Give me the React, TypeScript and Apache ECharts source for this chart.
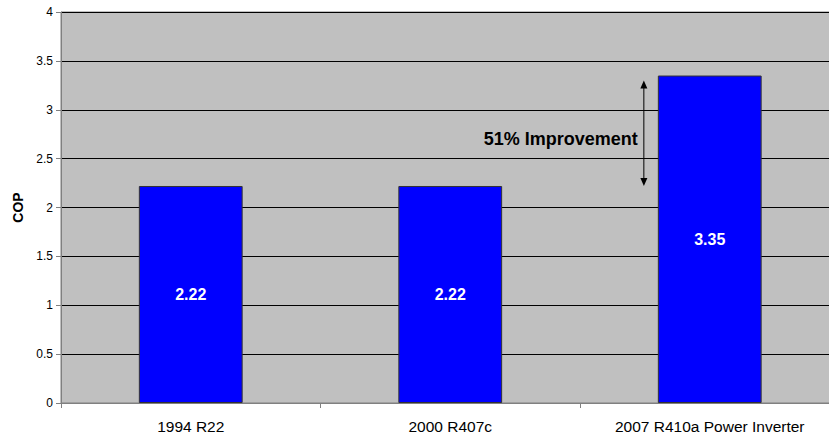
import React, { useEffect, useRef } from "react";
import * as echarts from "echarts";

// COP of heat-pump generations
const categories = ["1994 R22", "2000 R407c", "2007 R410a Power Inverter"];
const copValues = [2.22, 2.22, 3.35];
const yTicks = { min: 0, max: 4, interval: 0.5 };

// Improvement annotation: arrow spans from the older COP up to the newer bar
const arrowFrom = 2.22;
const arrowTo = 3.3;
const improvementText = "51% Improvement";
const improvementLevel = 2.7;

const FONT = "'Liberation Sans', Arial, sans-serif";

export default function App() {
  const ref = useRef<HTMLDivElement>(null);

  useEffect(() => {
    if (!ref.current) return;
    const chart = echarts.init(ref.current, undefined, { renderer: "svg" });
    chart.setOption({
      animation: false,
      textStyle: { fontFamily: FONT },
      grid: {
        left: 61,
        top: 12,
        width: 778.5,
        height: 391,
        outerBoundsMode: "none",
        containLabel: false,
        show: true,
        backgroundColor: "#C0C0C0",
        borderColor: "#808080",
        borderWidth: 1,
      },
      xAxis: {
        type: "category",
        data: categories,
        axisLine: { lineStyle: { color: "#808080", width: 1 } },
        axisTick: { show: true, length: 5, lineStyle: { color: "#808080" } },
        axisLabel: { color: "#000", fontSize: 15.5, fontFamily: FONT, margin: 15 },
      },
      yAxis: {
        type: "value",
        min: yTicks.min,
        max: yTicks.max,
        interval: yTicks.interval,
        name: "COP",
        nameLocation: "middle",
        nameRotate: 90,
        nameGap: 35,
        nameTextStyle: { color: "#000", fontWeight: "bold", fontSize: 14, fontFamily: FONT },
        axisLine: { show: true, lineStyle: { color: "#808080", width: 1 } },
        axisTick: { show: true, length: 5, lineStyle: { color: "#808080" } },
        axisLabel: { color: "#000", fontSize: 12, fontFamily: FONT, margin: 8 },
        splitLine: { show: true, lineStyle: { color: "#000", width: 1 } },
      },
      series: [
        {
          type: "bar",
          data: copValues,
          barWidth: "40%",
          itemStyle: { color: "#0000FF", borderColor: "#333", borderWidth: 1 },
          label: {
            show: true,
            position: "inside",
            color: "#fff",
            fontWeight: "bold",
            fontSize: 16,
            fontFamily: FONT,
          },
        },
      ],
    });

    // Double-headed arrow next to the newest bar, with its caption
    const center = chart.convertToPixel({ xAxisIndex: 0 }, 2) as number;
    const band = (chart.convertToPixel({ xAxisIndex: 0 }, 1) as number) - (chart.convertToPixel({ xAxisIndex: 0 }, 0) as number);
    const ax = center - band * 0.2 - 14;
    const yTop = chart.convertToPixel({ yAxisIndex: 0 }, arrowTo) as number;
    const yBot = chart.convertToPixel({ yAxisIndex: 0 }, arrowFrom) as number;
    const yText = chart.convertToPixel({ yAxisIndex: 0 }, improvementLevel) as number;
    const head = 8;
    const hw = 3.5;
    chart.setOption({
      graphic: [
        {
          type: "line",
          shape: { x1: ax, y1: yTop + head - 1, x2: ax, y2: yBot - head + 1 },
          style: { stroke: "#000", lineWidth: 1 },
        },
        {
          type: "polygon",
          shape: { points: [[ax, yTop], [ax - hw, yTop + head], [ax + hw, yTop + head]] },
          style: { fill: "#000" },
        },
        {
          type: "polygon",
          shape: { points: [[ax, yBot], [ax - hw, yBot - head], [ax + hw, yBot - head]] },
          style: { fill: "#000" },
        },
        {
          type: "text",
          x: ax - 6,
          y: yText,
          style: {
            text: improvementText,
            align: "right",
            verticalAlign: "middle",
            fill: "#000",
            font: `bold 18px ${FONT}`,
          },
        },
      ],
    });

    return () => chart.dispose();
  }, []);

  return (
    <div
      ref={ref}
      style={{ position: "absolute", left: 0, top: 0, width: 829, height: 439 }}
    />
  );
}
